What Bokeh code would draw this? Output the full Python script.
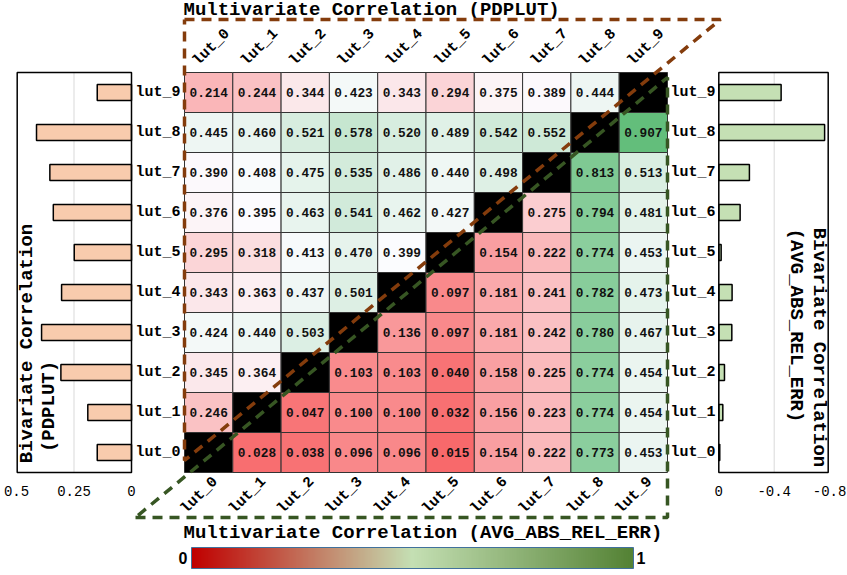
import numpy as np
from bokeh.plotting import figure
from bokeh.models import Range1d, ColumnDataSource
from bokeh.embed import file_html
from bokeh.resources import INLINE
from bokeh.core.properties import value

# ---------------- data ----------------
luts = ["lut_0", "lut_1", "lut_2", "lut_3", "lut_4", "lut_5", "lut_6", "lut_7", "lut_8", "lut_9"]

# multivariate correlation matrix, one list per row (row = lut_i, column = lut_j); None = diagonal
mv_lut_0 = [None, 0.028, 0.038, 0.096, 0.096, 0.015, 0.154, 0.222, 0.773, 0.453]
mv_lut_1 = [0.246, None, 0.047, 0.100, 0.100, 0.032, 0.156, 0.223, 0.774, 0.454]
mv_lut_2 = [0.345, 0.364, None, 0.103, 0.103, 0.040, 0.158, 0.225, 0.774, 0.454]
mv_lut_3 = [0.424, 0.440, 0.503, None, 0.136, 0.097, 0.181, 0.242, 0.780, 0.467]
mv_lut_4 = [0.343, 0.363, 0.437, 0.501, None, 0.097, 0.181, 0.241, 0.782, 0.473]
mv_lut_5 = [0.295, 0.318, 0.413, 0.470, 0.399, None, 0.154, 0.222, 0.774, 0.453]
mv_lut_6 = [0.376, 0.395, 0.463, 0.541, 0.462, 0.427, None, 0.275, 0.794, 0.481]
mv_lut_7 = [0.390, 0.408, 0.475, 0.535, 0.486, 0.440, 0.498, None, 0.813, 0.513]
mv_lut_8 = [0.445, 0.460, 0.521, 0.578, 0.520, 0.489, 0.542, 0.552, None, 0.907]
mv_lut_9 = [0.214, 0.244, 0.344, 0.423, 0.343, 0.294, 0.375, 0.389, 0.444, None]
mv_rows = [mv_lut_0, mv_lut_1, mv_lut_2, mv_lut_3, mv_lut_4,
           mv_lut_5, mv_lut_6, mv_lut_7, mv_lut_8, mv_lut_9]

# bivariate correlations (lut_0 .. lut_9)
bivar_pdplut = [0.149, 0.190, 0.307, 0.391, 0.304, 0.249, 0.340, 0.355, 0.413, 0.149]
bivar_err = [-0.007, -0.029, -0.041, -0.094, -0.096, -0.017, -0.154, -0.221, -0.764, -0.450]

left_ticks = [0.5, 0.25, 0.0]
left_tick_labels = ["0.5", "0.25", "0"]
right_ticks = [0.0, -0.4, -0.8]
right_tick_labels = ["0", "-0.4", "-0.8"]
cbar_tick_labels = ["0", "1"]

# ---------------- layout helpers (image px -> data units) ----------------
W, H = 847, 575
CW, CH = 48.3, 40.0          # cell size in px
HX, HY = 184, 72             # heatmap left/top in px
N = len(luts)


def X(px):
    return (px - HX) / CW


def Y(py):
    return N - (py - HY) / CH


def LV(px):   # left bar panel scale: value at px
    return (131.0 - px) / 230.0


def RV(px):   # right bar panel scale
    return -(px - 718.3) / 138.5


p = figure(width=W, height=H, title=None,
           x_range=Range1d(X(0), X(W)), y_range=Range1d(Y(H), Y(0)),
           output_backend="svg", toolbar_location=None, min_border=0,
           x_axis_type=None, y_axis_type=None)
p.outline_line_color = None
p.background_fill_color = "white"
p.border_fill_color = "white"
p.extra_x_ranges = {
    "left": Range1d(start=LV(0), end=LV(W)),
    "right": Range1d(start=RV(0), end=RV(W)),
}

MONO = value("Liberation Mono")

# ---------------- colour scale (min / median / max) ----------------
all_vals = [v for row in mv_rows for v in row if v is not None]
vmin, vmax = min(all_vals), max(all_vals)
vmed = float(np.percentile(all_vals, 50))


def hex2rgb(h):
    h = h.lstrip("#")
    return tuple(int(h[i:i + 2], 16) for i in (0, 2, 4))


C_LO, C_MID, C_HI = hex2rgb("#F8696B"), hex2rgb("#FCFCFF"), hex2rgb("#63BE7B")


def mix(a, b, t):
    return "#%02x%02x%02x" % tuple(int(round(a[i] + (b[i] - a[i]) * t)) for i in range(3))


def cell_color(v):
    if v is None:
        return "#000000"
    if v <= vmed:
        return mix(C_LO, C_MID, (v - vmin) / (vmed - vmin))
    return mix(C_MID, C_HI, (v - vmed) / (vmax - vmed))


# ---------------- bar panels ----------------
ys = [i + 0.5 for i in range(N)]

p.segment(x0=[left_ticks[1]], y0=[0], x1=[left_ticks[1]], y1=[N], x_range_name="left",
          line_color="#d9d9d9", line_width=1)
p.segment(x0=[right_ticks[1]], y0=[0], x1=[right_ticks[1]], y1=[N], x_range_name="right",
          line_color="#d9d9d9", line_width=1)

p.hbar(y=ys, left=0, right=bivar_pdplut, height=0.4, x_range_name="left",
       fill_color="#F8CBAD", line_color="black", line_width=1.5)
p.hbar(y=ys, left=0, right=bivar_err, height=0.4, x_range_name="right",
       fill_color="#C5E0B4", line_color="black", line_width=1.5)

p.quad(left=[0], right=[LV(16.7)], bottom=[0], top=[N], x_range_name="left",
       fill_color=None, line_color="black", line_width=1.5)
p.quad(left=[0], right=[RV(827.7)], bottom=[0], top=[N], x_range_name="right",
       fill_color=None, line_color="black", line_width=1.5)

p.text(x=left_ticks, y=[Y(490)] * 3, text=left_tick_labels, x_range_name="left",
       text_font=MONO, text_font_size="14px", text_align="center",
       text_baseline="middle", text_color="black")
p.text(x=right_ticks, y=[Y(490)] * 3, text=right_tick_labels, x_range_name="right",
       text_font=MONO, text_font_size="14px", text_align="center",
       text_baseline="middle", text_color="black")

# panel titles
p.text(x=[X(26.7), X(48.3)], y=[Y(343), Y(406)],
       text=["Bivariate Correlation", "(PDPLUT)"], angle=np.pi / 2,
       text_font=MONO, text_font_style="bold", text_font_size="19px",
       text_align="center", text_baseline="middle", text_color="black")
p.text(x=[X(818), X(795)], y=[Y(347), Y(325)],
       text=["Bivariate Correlation", "(AVG_ABS_REL_ERR)"], angle=-np.pi / 2,
       text_font=MONO, text_font_style="bold", text_font_size="19px",
       text_align="center", text_baseline="middle", text_color="black")

# ---------------- heatmap ----------------
cx, cy, fills, txt = [], [], [], []
for r, row in enumerate(mv_rows):
    for c, v in enumerate(row):
        cx.append(c + 0.5)
        cy.append(r + 0.5)
        fills.append(cell_color(v))
        txt.append("" if v is None else "%.3f" % v)
src = ColumnDataSource(dict(x=cx, y=cy, fill=fills, txt=txt))
p.rect(x="x", y="y", width=1, height=1, source=src, fill_color="fill",
       line_color="#333333", line_width=1)
p.text(x="x", y="y", text="txt", source=src, text_font=MONO, text_font_style="bold",
       text_font_size="12.8px", text_align="center", text_baseline="middle",
       text_color="#111111")

# row labels
p.text(x=[X(180)] * N, y=ys, text=luts, text_font=MONO, text_font_style="bold",
       text_font_size="15px", text_align="right", text_baseline="middle", text_color="black")
p.text(x=[X(670)] * N, y=ys, text=luts, text_font=MONO, text_font_style="bold",
       text_font_size="15px", text_align="left", text_baseline="middle", text_color="black")

# column labels (rotated)
p.text(x=[i + 0.5 + 3 / CW for i in range(N)], y=[N + 25 / CH] * N, text=luts, angle=np.pi / 4,
       text_font=MONO, text_font_style="bold", text_font_size="15px",
       text_align="center", text_baseline="middle", text_color="black")
p.text(x=[i + 0.5 - 9 / CW for i in range(N)], y=[-23 / CH] * N, text=luts, angle=np.pi / 4,
       text_font=MONO, text_font_style="bold", text_font_size="15px",
       text_align="center", text_baseline="middle", text_color="black")

# titles
p.text(x=[X(183)], y=[Y(9)], text=["Multivariate Correlation (PDPLUT)"],
       text_font=MONO, text_font_style="bold", text_font_size="19px",
       text_align="left", text_baseline="middle", text_color="black")
p.text(x=[X(183)], y=[Y(532)], text=["Multivariate Correlation (AVG_ABS_REL_ERR)"],
       text_font=MONO, text_font_style="bold", text_font_size="19px",
       text_align="left", text_baseline="middle", text_color="black")

# dashed triangles
p.line(x=[X(184), X(720), X(184), X(184)], y=[Y(19), Y(19), Y(460), Y(19)],
       line_color="#843C0C", line_width=3.5, line_dash="10 7")
p.line(x=[X(135), X(667), X(667), X(135)], y=[Y(517), Y(517), Y(77), Y(517)],
       line_color="#375623", line_width=3.5, line_dash="10 7")

# ---------------- colour bar ----------------
stops = [hex2rgb("#C00000"), hex2rgb("#C5E0B4"), hex2rgb("#548235")]
n = 256
img = np.zeros((1, n), dtype=np.uint32)
view = img.view(dtype=np.uint8).reshape((1, n, 4))
for i, t in enumerate(np.linspace(0, 1, n)):
    if t <= 0.5:
        a, b, u = stops[0], stops[1], t / 0.5
    else:
        a, b, u = stops[1], stops[2], (t - 0.5) / 0.5
    view[0, i, 0] = int(a[0] + (b[0] - a[0]) * u)
    view[0, i, 1] = int(a[1] + (b[1] - a[1]) * u)
    view[0, i, 2] = int(a[2] + (b[2] - a[2]) * u)
    view[0, i, 3] = 255
cb_l, cb_r, cb_t, cb_b = X(191), X(633), Y(547), Y(568)
p.image_rgba(image=[img], x=cb_l, y=cb_b, dw=cb_r - cb_l, dh=cb_t - cb_b)
p.quad(left=[cb_l], right=[cb_r], bottom=[cb_b], top=[cb_t], fill_color=None,
       line_color="#41719C", line_width=1)
cb_mid = (cb_t + cb_b) / 2
p.text(x=[cb_l - 4 / CW], y=[cb_mid], text=[cbar_tick_labels[0]],
       text_font=value("Liberation Sans"), text_font_style="bold", text_font_size="16px",
       text_align="right", text_baseline="middle", text_color="black")
p.text(x=[cb_r + 3 / CW], y=[cb_mid], text=[cbar_tick_labels[1]],
       text_font=value("Liberation Sans"), text_font_style="bold", text_font_size="16px",
       text_align="left", text_baseline="middle", text_color="black")

open("out.html", "w").write(file_html(p, INLINE))
